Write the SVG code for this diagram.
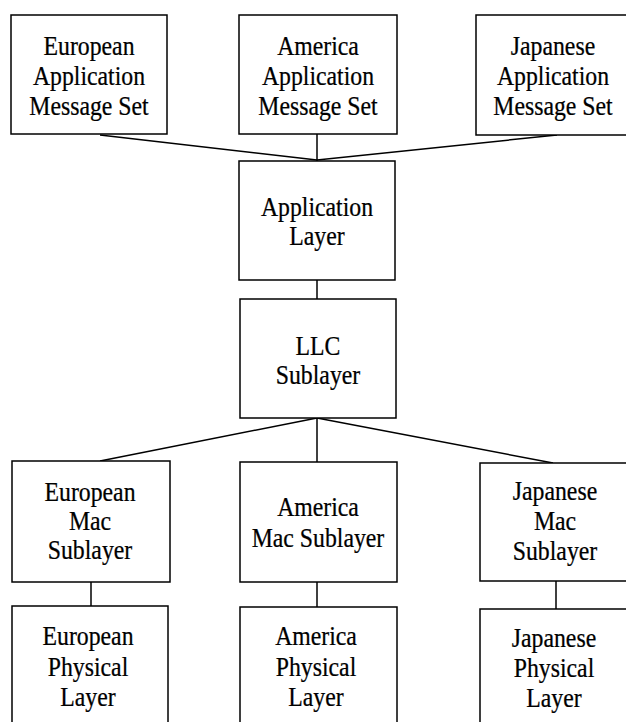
<svg xmlns="http://www.w3.org/2000/svg" width="626" height="722" viewBox="0 0 626 722">
  <style>
    .box { fill: #ffffff; stroke: #000000; stroke-width: 1.5; }
    .lbl { font-family: "Liberation Serif", "Times New Roman", serif; font-size: 27px; fill: #000000; stroke: #000000; stroke-width: 0.25; text-anchor: middle; }
    .wire { stroke: #000000; stroke-width: 1.5; fill: none; }
  </style>
  <rect width="626" height="722" fill="#ffffff"/>

  <!-- connectors -->
  <g id="connectors">
    <line class="wire" x1="100" y1="135" x2="317" y2="160"/>
    <line class="wire" x1="317" y1="134" x2="317" y2="161"/>
    <line class="wire" x1="557" y1="135" x2="317" y2="160"/>
    <line class="wire" x1="317" y1="280" x2="317" y2="299"/>
    <line class="wire" x1="317" y1="418" x2="100" y2="461"/>
    <line class="wire" x1="317" y1="418" x2="317" y2="462"/>
    <line class="wire" x1="317" y1="418" x2="553" y2="463"/>
    <line class="wire" x1="91" y1="582" x2="91" y2="606"/>
    <line class="wire" x1="317" y1="582" x2="317" y2="607"/>
    <line class="wire" x1="556" y1="581" x2="556" y2="609"/>
  </g>

  <!-- application message sets -->
  <g id="eu-msgset">
    <rect class="box" x="11" y="15" width="156" height="119"/>
    <text class="lbl" transform="translate(89 0) scale(0.88 1)"><tspan x="0" y="55">European</tspan><tspan x="0" y="85">Application</tspan><tspan x="0" y="115">Message Set</tspan></text>
  </g>
  <g id="us-msgset">
    <rect class="box" x="239" y="15" width="158" height="119"/>
    <text class="lbl" transform="translate(318 0) scale(0.88 1)"><tspan x="0" y="55">America</tspan><tspan x="0" y="85">Application</tspan><tspan x="0" y="115">Message Set</tspan></text>
  </g>
  <g id="jp-msgset">
    <rect class="box" x="476" y="15" width="153" height="120"/>
    <text class="lbl" transform="translate(553 0) scale(0.88 1)"><tspan x="0" y="55">Japanese</tspan><tspan x="0" y="85">Application</tspan><tspan x="0" y="115">Message Set</tspan></text>
  </g>

  <!-- core stack -->
  <g id="app-layer">
    <rect class="box" x="239" y="161" width="156" height="119"/>
    <text class="lbl" transform="translate(317 0) scale(0.88 1)"><tspan x="0" y="216">Application</tspan><tspan x="0" y="245">Layer</tspan></text>
  </g>
  <g id="llc-sublayer">
    <rect class="box" x="240" y="299" width="156" height="119"/>
    <text class="lbl" transform="translate(318 0) scale(0.88 1)"><tspan x="0" y="355">LLC</tspan><tspan x="0" y="384">Sublayer</tspan></text>
  </g>

  <!-- MAC sublayers -->
  <g id="eu-mac">
    <rect class="box" x="12" y="461" width="158" height="121"/>
    <text class="lbl" transform="translate(90 0) scale(0.88 1)"><tspan x="0" y="501">European</tspan><tspan x="0" y="530">Mac</tspan><tspan x="0" y="559">Sublayer</tspan></text>
  </g>
  <g id="us-mac">
    <rect class="box" x="240" y="462" width="157" height="120"/>
    <text class="lbl" transform="translate(318 0) scale(0.88 1)"><tspan x="0" y="516">America</tspan><tspan x="0" y="547">Mac Sublayer</tspan></text>
  </g>
  <g id="jp-mac">
    <rect class="box" x="480" y="463" width="150" height="118"/>
    <text class="lbl" transform="translate(555 0) scale(0.88 1)"><tspan x="0" y="500">Japanese</tspan><tspan x="0" y="530">Mac</tspan><tspan x="0" y="560">Sublayer</tspan></text>
  </g>

  <!-- physical layers -->
  <g id="eu-phy">
    <rect class="box" x="12" y="606" width="156" height="124"/>
    <text class="lbl" transform="translate(88 0) scale(0.88 1)"><tspan x="0" y="645">European</tspan><tspan x="0" y="676">Physical</tspan><tspan x="0" y="706">Layer</tspan></text>
  </g>
  <g id="us-phy">
    <rect class="box" x="240" y="607" width="157" height="123"/>
    <text class="lbl" transform="translate(316 0) scale(0.88 1)"><tspan x="0" y="645">America</tspan><tspan x="0" y="676">Physical</tspan><tspan x="0" y="706">Layer</tspan></text>
  </g>
  <g id="jp-phy">
    <rect class="box" x="480" y="609" width="150" height="121"/>
    <text class="lbl" transform="translate(554 0) scale(0.88 1)"><tspan x="0" y="647">Japanese</tspan><tspan x="0" y="677">Physical</tspan><tspan x="0" y="707">Layer</tspan></text>
  </g>
</svg>
